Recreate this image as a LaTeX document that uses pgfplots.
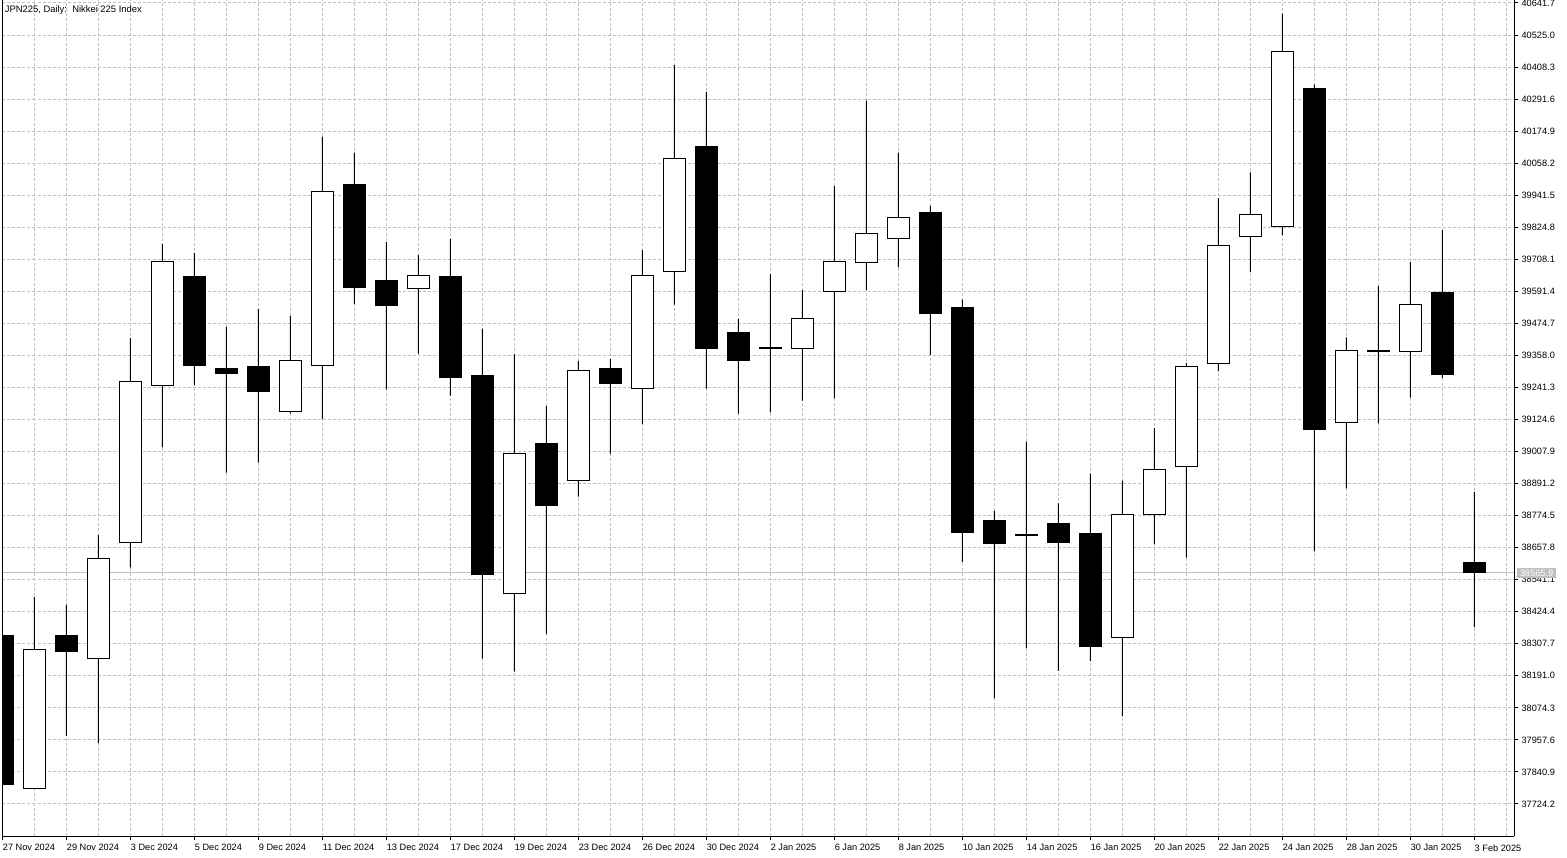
\documentclass[border=0pt]{standalone}
\usepackage{fontspec}
\setmainfont{Liberation Sans}
\usepackage{pgfplots}
\usepackage{pgfplotstable}
\pgfplotsset{compat=1.18}
\definecolor{gridc}{RGB}{192,192,192}
\definecolor{bidc}{RGB}{192,192,192}
\pgfplotstableread{
i o h l c
0 38336.0 38350.0 37790.0 37796.9
1 37781.2 38478.0 37781.2 38287.5
2 38339.6 38448.9 37971.8 38278.8
3 38254.7 38703.8 37946.3 38619.0
4 38677.2 39421.4 38584.7 39263.7
5 39249.1 39763.8 39023.3 39701.8
6 39647.2 39731.0 39250.2 39320.5
7 39312.1 39462.5 38930.8 39291.3
8 39319.4 39527.0 38967.2 39225.8
9 39153.0 39501.5 39147.1 39340.2
10 39321.2 40154.6 39127.1 39955.7
11 39978.7 40096.3 39545.2 39604.6
12 39632.6 39771.0 39234.5 39539.0
13 39601.0 39723.7 39364.2 39649.8
14 39647.2 39782.0 39211.2 39276.8
15 39283.0 39454.2 38253.3 38559.2
16 38491.5 39362.0 38205.9 38998.9
17 39038.9 39173.7 38343.3 38810.6
18 38903.1 39337.6 38843.3 39301.2
19 39312.1 39344.9 39000.0 39254.9
20 39238.2 39741.9 39108.1 39650.8
21 39664.3 40415.7 39542.7 40075.9
22 40120.7 40317.4 39236.7 39382.4
23 39443.2 39490.6 39145.7 39338.7
24 39384.0 39654.5 39150.8 39387.0
25 39383.9 39596.2 39193.0 39490.6
26 39591.5 39975.0 39201.7 39701.8
27 39697.1 40285.7 39596.2 39800.2
28 39784.5 40096.3 39678.9 39862.1
29 39880.3 39902.2 39359.5 39509.9
30 39534.2 39561.0 38605.3 38713.8
31 38755.8 38792.0 38109.3 38674.1
32 38702.0 39044.1 38291.4 38705.0
33 38745.3 38818.8 38208.5 38677.6
34 38709.1 38927.4 38244.7 38296.0
35 38329.9 38901.7 38042.8 38780.3
36 38776.8 39093.1 38670.6 38941.4
37 38951.9 39331.2 38621.6 39316.0
38 39330.0 39931.0 39299.6 39758.3
39 39792.1 40024.4 39661.4 39871.5
40 39827.1 40603.2 39795.6 40466.6
41 40330.1 40344.1 38643.8 39087.3
42 39114.1 39423.4 38873.7 39375.5
43 39376.0 39610.1 39110.6 39373.0
44 39373.2 39697.6 39204.0 39543.6
45 39587.9 39814.3 39276.3 39288.0
46 38605.3 38859.7 38368.4 38565.9
}\ohlc
\tikzset{tl/.style={font=\fontsize{4.6pt}{5pt}\selectfont}}
\pgfplotsset{
  base/.style={at={(0,0)}, anchor=south west, scale only axis,
    width=755.75pt, height=417.75pt,
    xmin=0, xmax=47.24, ymin=37607.5, ymax=40650.7}
}
\begin{document}
\begin{tikzpicture}
\fill[white] (-1.25pt,-10.5pt) rectangle (782.25pt,418pt);
% axis 1: grid, ticks, bid line
\begin{axis}[base, name=main,
  axis x line*=bottom, axis y line*=right,
  x axis line style={-}, y axis line style={-},
  axis line style={line width=0.5pt, black},
  tick align=outside,
  major tick length=2pt, minor tick length=0pt,
  major tick style={line width=0.5pt, black},
  xtick={0,2,...,46},
  minor xtick={1,3,...,47},
  xticklabels={27 Nov 2024,29 Nov 2024,3 Dec 2024,5 Dec 2024,9 Dec 2024,11 Dec 2024,13 Dec 2024,17 Dec 2024,19 Dec 2024,23 Dec 2024,26 Dec 2024,30 Dec 2024,2 Jan 2025,6 Jan 2025,8 Jan 2025,10 Jan 2025,14 Jan 2025,16 Jan 2025,20 Jan 2025,22 Jan 2025,24 Jan 2025,28 Jan 2025,30 Jan 2025,3 Feb 2025},
  ytick={37724.2,37840.9,37957.6,38074.3,38191.0,38307.7,38424.4,38541.1,38657.8,38774.5,38891.2,39007.9,39124.6,39241.3,39358.0,39474.7,39591.4,39708.1,39824.8,39941.5,40058.2,40174.9,40291.6,40408.3,40525.0,40641.7},
  yticklabels={37724.2,37840.9,37957.6,38074.3,38191.0,38307.7,38424.4,38541.1,38657.8,38774.5,38891.2,39007.9,39124.6,39241.3,39358.0,39474.7,39591.4,39708.1,39824.8,39941.5,40058.2,40174.9,40291.6,40408.3,40525.0,40641.7},
  xticklabel style={tl, anchor=north west, inner sep=0pt, yshift=-2pt},
  yticklabel style={tl, anchor=west, inner sep=0pt, xshift=1.6pt},
  xmajorgrids, xminorgrids, ymajorgrids,
  grid style={gridc, line width=0.5pt, dash pattern=on 1.5pt off 1pt},
]
\addplot[bidc, line width=0.5pt, mark=none] coordinates {(0,38565.9) (47.3,38565.9)};
\end{axis}
% axis 2: wicks
\begin{axis}[base, hide axis, ybar stacked, bar width=0.5pt]
\addplot[draw=none, fill=none] table[x=i, y=l] {\ohlc};
\addplot[draw=none, fill=black] table[x=i, y expr={\thisrow{h}-\thisrow{l}}] {\ohlc};
\end{axis}
% axis 3: bodies
\begin{axis}[base, hide axis, ybar stacked, bar width=10.75pt, clip mode=individual]
\addplot[draw=none, fill=none] table[x=i, y expr={min(\thisrow{o},\thisrow{c})}] {\ohlc};
\addplot[draw=black, fill=white, line width=0.5pt] table[x=i, y expr={max(\thisrow{c}-\thisrow{o},0)}] {\ohlc};
\addplot[draw=black, fill=black, line width=0.5pt] table[x=i, y expr={max(\thisrow{o}-\thisrow{c},0)}] {\ohlc};
\node[tl, fill=bidc, text=white, inner xsep=1.3pt, inner ysep=1pt, anchor=west, xshift=1.5pt] at (axis cs:47.24,38565.9) {38565.9};
\node[anchor=north west, inner sep=0pt, font=\fontsize{4.7pt}{5pt}\selectfont, xshift=1pt, yshift=-2.3pt] at (rel axis cs:0,1) {JPN225, Daily:\ \ Nikkei 225 Index};
\end{axis}
\draw[black, line width=0.5pt] (main.south west) -- (main.north west);
\pgfresetboundingbox
\path[use as bounding box] (-1.25pt,-10.5pt) rectangle (782.25pt,418pt);
\end{tikzpicture}
\end{document}
